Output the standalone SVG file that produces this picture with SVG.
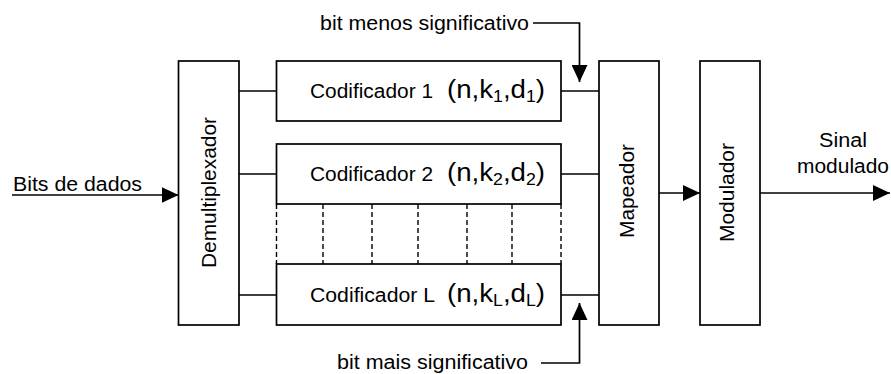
<svg xmlns="http://www.w3.org/2000/svg" width="891" height="374" viewBox="0 0 891 374">
<defs>
<style>
.box{fill:#fff;stroke:#000;stroke-width:1.7}
.ln{fill:none;stroke:#000;stroke-width:1.7}
.dash{fill:none;stroke:#000;stroke-width:1.4;stroke-dasharray:5,3}
text{font-family:"Liberation Sans",Arial,sans-serif;font-size:20px;fill:#000}
.big{font-size:25px}
.sub{font-size:16px}
</style>
<marker id="ah" markerUnits="userSpaceOnUse" markerWidth="18" markerHeight="16" refX="17" refY="8" orient="auto">
<path d="M0,0 L17,8 L0,16 Z" fill="#000"/>
</marker>
</defs>
<g id="demux">
<rect class="box" x="178.5" y="61" width="60.5" height="264"/>
<text transform="translate(216,268) rotate(-90)" textLength="151" lengthAdjust="spacingAndGlyphs">Demultiplexador</text>
</g>
<g id="enc1">
<rect class="box" x="276.5" y="61" width="284.5" height="60"/>
<text x="310" y="98" textLength="123" lengthAdjust="spacingAndGlyphs">Codificador 1</text>
<text class="big" x="447" y="98" textLength="98" lengthAdjust="spacingAndGlyphs">(n,k<tspan class="sub" dy="4">1</tspan><tspan dy="-4">,d</tspan><tspan class="sub" dy="4">1</tspan><tspan dy="-4">)</tspan></text>
</g>
<g id="enc2">
<rect class="box" x="276.5" y="144" width="284.5" height="60"/>
<text x="310" y="181" textLength="123" lengthAdjust="spacingAndGlyphs">Codificador 2</text>
<text class="big" x="447" y="181" textLength="98" lengthAdjust="spacingAndGlyphs">(n,k<tspan class="sub" dy="4">2</tspan><tspan dy="-4">,d</tspan><tspan class="sub" dy="4">2</tspan><tspan dy="-4">)</tspan></text>
</g>
<g id="encL">
<rect class="box" x="276.5" y="264" width="284.5" height="61"/>
<text x="310" y="302" textLength="125" lengthAdjust="spacingAndGlyphs">Codificador L</text>
<text class="big" x="447" y="302" textLength="98" lengthAdjust="spacingAndGlyphs">(n,k<tspan class="sub" dy="4">L</tspan><tspan dy="-4">,d</tspan><tspan class="sub" dy="4">L</tspan><tspan dy="-4">)</tspan></text>
</g>
<g id="dashes">
<path class="dash" d="M276.5,204V264M323,204V264M372,204V264M418,204V264M467,204V264M512,204V264M561,204V264"/>
</g>
<g id="mapper">
<rect class="box" x="599" y="61" width="60" height="264"/>
<text transform="translate(634,238) rotate(-90)" textLength="94" lengthAdjust="spacingAndGlyphs">Mapeador</text>
</g>
<g id="modulator">
<rect class="box" x="700" y="61" width="60" height="264"/>
<text transform="translate(734,242) rotate(-90)" textLength="99" lengthAdjust="spacingAndGlyphs">Modulador</text>
</g>
<g id="labels">
<text x="13" y="191" textLength="129" lengthAdjust="spacingAndGlyphs">Bits de dados</text>
<text x="320" y="30" textLength="209" lengthAdjust="spacingAndGlyphs">bit menos significativo</text>
<text x="337" y="369" textLength="191" lengthAdjust="spacingAndGlyphs">bit mais significativo</text>
<text x="843" y="147" text-anchor="middle" textLength="48" lengthAdjust="spacingAndGlyphs">Sinal</text>
<text x="843" y="173" text-anchor="middle" textLength="92" lengthAdjust="spacingAndGlyphs">modulado</text>
</g>
<g id="connectors">
<path class="ln" d="M12,195H178.5" marker-end="url(#ah)"/>
<path class="ln" d="M239,91H276.5M239,174H276.5M239,295H276.5"/>
<path class="ln" d="M561,91H599M561,174H599M561,295H599"/>
<path class="ln" d="M659,193H700" marker-end="url(#ah)"/>
<path class="ln" d="M760,193H890" marker-end="url(#ah)"/>
<path class="ln" d="M533,23H579.5V82" marker-end="url(#ah)"/>
<path class="ln" d="M541,363H579.5V303" marker-end="url(#ah)"/>
</g>
</svg>
